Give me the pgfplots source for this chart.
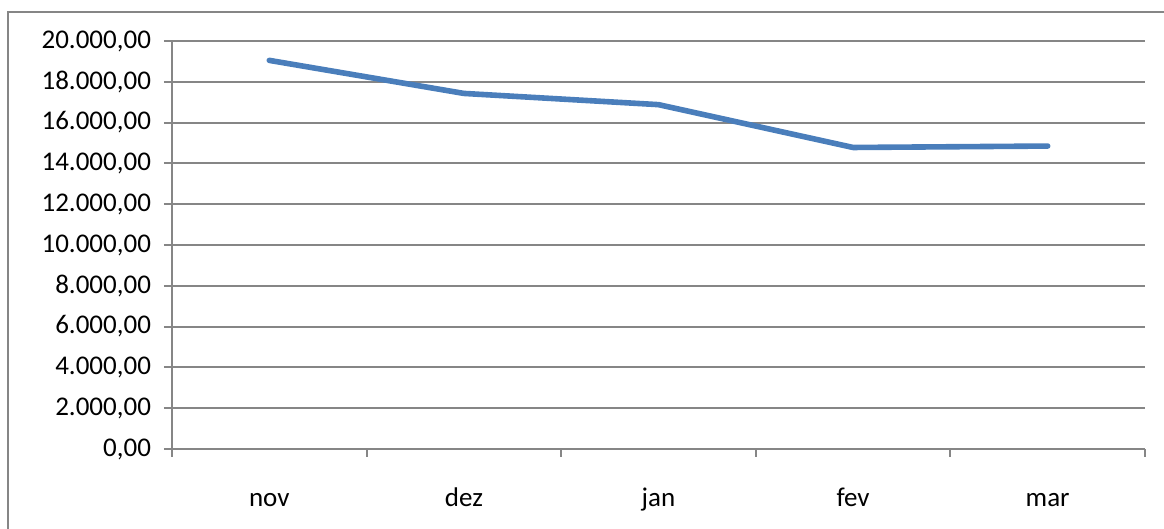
\documentclass[border=0pt]{standalone}
\usepackage{pgfplots}
\pgfplotsset{compat=1.18}
\usepackage{fontspec}
\setmainfont{Carlito}
\definecolor{gridgray}{HTML}{868686}
\definecolor{lineblue}{HTML}{4A7EBB}
\begin{document}
\begin{tikzpicture}
\path[use as bounding box] (0,0) rectangle (582pt,264.5pt);
\draw[gridgray, line width=1pt] (4pt,0) -- (4pt,258.5pt) -- (582pt,258.5pt);
\begin{axis}[
  at={(86pt,40pt)}, anchor=south west,
  scale only axis,
  width=486.5pt, height=204pt,
  xmin=-0.5, xmax=4.5,
  ymin=0, ymax=20000,
  axis x line=bottom, axis y line=left,
  axis line style={draw=gridgray, line width=1pt, -},
  xtick={-0.5,0.5,1.5,2.5,3.5,4.5},
  x tick label as interval,
  xticklabels={nov,dez,jan,fev,mar},
  ytick={0,2000,...,20000},
  ymajorgrids,
  grid style={draw=gridgray, line width=1pt},
  tick align=outside,
  tick style={draw=gridgray, line width=1pt},
  major tick length=4pt,
  yticklabel style={font=\fontsize{13.5}{15}\selectfont, xshift=-3pt},
  xticklabel style={font=\fontsize{13.5}{15}\selectfont, anchor=north, text height=9pt, text depth=3pt, yshift=-12pt},
  /pgf/number format/assume math mode=true,
  yticklabel={\pgfmathprintnumber[fixed, fixed zerofill, precision=2, use comma, 1000 sep={.}]{\tick}},
  scaled y ticks=false,
  clip=false,
]
\addplot[lineblue, line width=2.8pt, line cap=round, line join=round] coordinates {
  (0,19050) (1,17430) (2,16880) (3,14780) (4,14850)
};
\end{axis}
\end{tikzpicture}
\end{document}
